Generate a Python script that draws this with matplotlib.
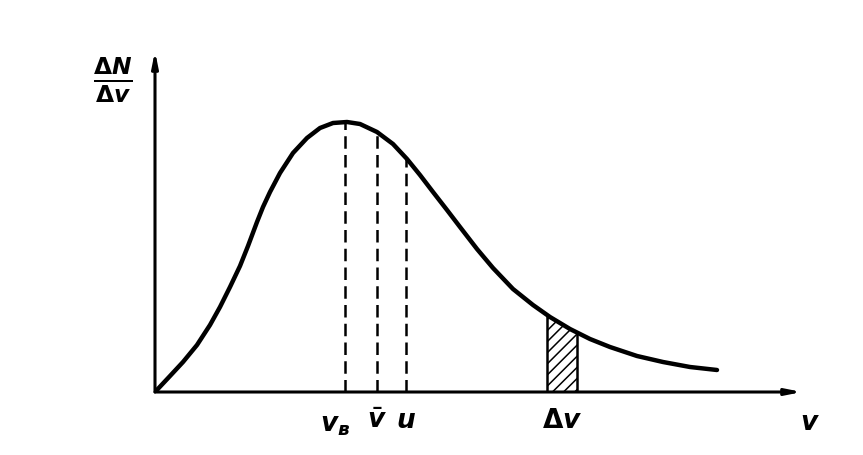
import matplotlib
matplotlib.use("Agg")
import matplotlib.pyplot as plt
import numpy as np

# Curve (arbitrary units: speed v, dN/dv)
v_vals = [0.00, 0.15, 0.28, 0.42, 0.55, 0.65, 0.75, 0.85, 0.93, 1.02, 1.08,
          1.15, 1.25, 1.38, 1.52, 1.65, 1.78, 1.92, 2.05, 2.22, 2.38, 2.52,
          2.65, 2.78, 2.92, 3.05, 3.22, 3.38, 3.58, 3.78, 3.95, 4.15, 4.35,
          4.55, 4.82, 5.08, 5.35, 5.62]
f_vals = [0.00, 0.16, 0.30, 0.47, 0.67, 0.85, 1.05, 1.26, 1.46, 1.70, 1.85,
          2.00, 2.19, 2.39, 2.54, 2.64, 2.69, 2.70, 2.68, 2.60, 2.48, 2.33,
          2.17, 2.00, 1.82, 1.65, 1.43, 1.24, 1.03, 0.87, 0.75, 0.63, 0.53,
          0.45, 0.36, 0.30, 0.25, 0.22]

# characteristic speeds
v_prob = 1.90   # most probable
v_mean = 2.22   # mean
u_rms = 2.51    # root mean square
dv_lo, dv_hi = 3.92, 4.22

labels = {"prob": r"$v_{в}$", "mean": r"$\bar{v}$", "rms": r"$u$",
          "dv": r"$\Delta v$", "x": r"$v$", "y": r"$\frac{\Delta N}{\Delta v}$"}

plt.rcParams["mathtext.fontset"] = "custom"
plt.rcParams["mathtext.it"] = "DejaVu Sans:italic:bold"
plt.rcParams["mathtext.rm"] = "DejaVu Sans:bold"
plt.rcParams["mathtext.bf"] = "DejaVu Sans:bold"
plt.rcParams["hatch.linewidth"] = 1.1

W, H = 863, 456
fig = plt.figure(figsize=(W / 100, H / 100), dpi=100)
x0, y0 = 155, 393
x1, y1 = 810, 40
ax = fig.add_axes([x0 / W, (H - y0) / H, (x1 - x0) / W, (y0 - y1) / H])
ax.set_xlim(0, (x1 - x0) / 100)
ax.set_ylim(0, (y0 - y1) / 100)
ax.axis("off")

# axes arrows
ax.annotate("", xy=(6.47, 0), xytext=(0, 0),
            arrowprops=dict(arrowstyle="-|>,head_length=0.9,head_width=0.18",
                            lw=2.2, color="black", shrinkA=0, shrinkB=0))
ax.annotate("", xy=(0, 3.41), xytext=(0, 0),
            arrowprops=dict(arrowstyle="-|>,head_length=0.9,head_width=0.18",
                            lw=2.2, color="black", shrinkA=0, shrinkB=0))

# curve
ax.plot(v_vals, f_vals, color="black", lw=3.2, solid_capstyle="round",
        solid_joinstyle="round")

# dashed lines
for xv in (v_prob, v_mean, u_rms):
    yv = np.interp(xv, v_vals, f_vals)
    ax.plot([xv, xv], [0, yv], color="black", lw=1.8, ls=(0, (5, 2.5)))

# hatched strip
xs = np.array([dv_lo, dv_hi])
ys = np.interp(xs, v_vals, f_vals)
ax.fill_between(xs, 0, ys, facecolor="white", edgecolor="black",
                hatch="///", lw=0)
ax.plot([dv_lo, dv_lo], [0, ys[0]], color="black", lw=1.8)
ax.plot([dv_hi, dv_hi], [0, ys[1]], color="black", lw=1.8)

fs = 19
ax.text(v_prob - 0.1, -0.32, labels["prob"], ha="center", va="center", fontsize=fs)
ax.text(v_mean, -0.28, labels["mean"], ha="center", va="center", fontsize=fs)
ax.text(u_rms, -0.28, labels["rms"], ha="center", va="center", fontsize=fs)
ax.text((dv_lo + dv_hi) / 2, -0.28, labels["dv"], ha="center", va="center", fontsize=fs)
ax.text(6.55, -0.30, labels["x"], ha="center", va="center", fontsize=fs)
fig.text(113 / W, 1 - 80 / H, labels["y"], ha="center", va="center", fontsize=24)

fig.savefig("out.png", dpi=100)
